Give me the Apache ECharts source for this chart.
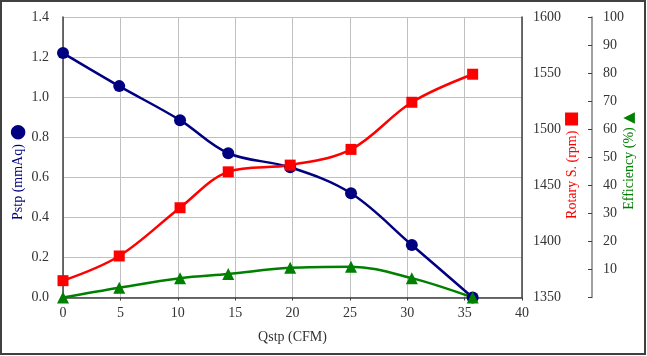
<!DOCTYPE html>
<html>
<head>
<meta charset="utf-8">
<script src="https://cdn.jsdelivr.net/npm/echarts@6/dist/echarts.min.js"></script>
<style>
html,body{margin:0;padding:0;background:#fff;}
#chart{width:647px;height:356px;}
</style>
</head>
<body>
<div id="chart"></div>
<script>
// Data
var qstp = [0, 4.9, 10.2, 14.4, 19.8, 25.1, 30.4, 35.7];          // Qstp (CFM)
var pstp = [1.22, 1.055, 0.885, 0.72, 0.65, 0.52, 0.262, 0];      // Pstp (mmAq)
var rotary = [1365, 1387, 1430, 1462, 1468, 1482, 1524, 1549];    // Rotary S. (rpm)
var efficiency = [0, 3.5, 6.9, 8.4, 10.6, 11.0, 6.9, 0];          // Efficiency (%)

var xName = 'Qstp (CFM)';
var pName = 'Pstp (mmAq)';
var rName = 'Rotary S. (rpm)';
var eName = 'Efficiency (%)';

function pairs(xs, ys) { return xs.map(function (x, i) { return [x, ys[i]]; }); }

var FONT = '"Liberation Serif", "Times New Roman", serif';
var SYM = '"DejaVu Sans", sans-serif';
var BLUE = '#000080', RED = '#ff0000', GREEN = '#008000';

function vName(text, sym, symSize, color, x, y) {
  return {
    type: 'text', x: x, y: y, rotation: Math.PI / 2, silent: true, z: 50,
    style: {
      text: text + ' {s|' + sym + '}',
      fontFamily: FONT, fontSize: 14, fill: color,
      align: 'center', verticalAlign: 'middle',
      rich: {s: {fontFamily: SYM, fontSize: symSize, fill: color}}
    }
  };
}

var chart = echarts.init(document.getElementById('chart'), null, {renderer: 'canvas'});
chart.setOption({
  animation: false,
  backgroundColor: '#fff',
  textStyle: {fontFamily: FONT},
  grid: {left: 63, right: 125, top: 17, bottom: 58.5, containLabel: false, outerBoundsMode: 'none'},
  xAxis: {
    type: 'value', min: 0, max: 40, interval: 5,
    name: xName, nameLocation: 'middle', nameGap: 33,
    nameTextStyle: {fontFamily: FONT, fontSize: 14, color: '#333'},
    axisLine: {show: true, onZero: false, lineStyle: {color: '#404040', width: 1.5}},
    axisTick: {show: true, length: 3, lineStyle: {color: '#404040'}},
    axisLabel: {fontFamily: FONT, fontSize: 14, color: '#333', margin: 9},
    splitLine: {show: true, lineStyle: {color: '#c0c0c0', width: 1}}
  },
  yAxis: [
    {
      type: 'value', min: 0, max: 1.4, interval: 0.2, position: 'left',
      axisLine: {show: true, lineStyle: {color: '#404040', width: 1.5}},
      axisTick: {show: false},
      axisLabel: {fontFamily: FONT, fontSize: 14, color: '#333', margin: 14,
        formatter: function (v) { return v.toFixed(1); }},
      splitLine: {show: true, lineStyle: {color: '#c0c0c0', width: 1}}
    },
    {
      type: 'value', min: 1350, max: 1600, interval: 50, position: 'right',
      axisLine: {show: true, lineStyle: {color: '#404040', width: 1.5}},
      axisTick: {show: false},
      axisLabel: {fontFamily: FONT, fontSize: 14, color: '#333', margin: 11,
        formatter: function (v) { return String(v); }},
      splitLine: {show: false}
    },
    {
      type: 'value', min: 0, max: 100, interval: 10, position: 'right', offset: 70,
      axisLine: {show: true, lineStyle: {color: '#808080', width: 1.5}},
      axisTick: {show: true, inside: true, length: 4, lineStyle: {color: '#404040'}},
      axisLabel: {fontFamily: FONT, fontSize: 14, color: '#333', margin: 11,
        formatter: function (v) { return v === 0 ? '' : String(v); }},
      splitLine: {show: false}
    }
  ],
  series: [
    {
      name: pName, type: 'line', yAxisIndex: 0, data: pairs(qstp, pstp),
      smooth: 0.35, symbol: 'circle', symbolSize: 12,
      lineStyle: {color: BLUE, width: 2.5}, itemStyle: {color: BLUE}
    },
    {
      name: rName, type: 'line', yAxisIndex: 1, data: pairs(qstp, rotary),
      smooth: 0.35, symbol: 'rect', symbolSize: 11,
      lineStyle: {color: RED, width: 2.5}, itemStyle: {color: RED}
    },
    {
      name: eName, type: 'line', yAxisIndex: 2, data: pairs(qstp, efficiency),
      smooth: 0.35, symbol: 'triangle', symbolSize: 12,
      lineStyle: {color: GREEN, width: 2.5}, itemStyle: {color: GREEN}
    }
  ],
  graphic: [
    vName(pName, '●', 19, BLUE, 18, 172),
    vName(rName, '■', 17, RED, 572, 165),
    vName(eName, '▲', 15, GREEN, 629, 161),
    {type: 'rect', silent: true, z: 100,
     shape: {x: 1, y: 1, width: 644, height: 353},
     style: {fill: null, stroke: '#404040', lineWidth: 2}}
  ]
});
</script>
</body>
</html>
